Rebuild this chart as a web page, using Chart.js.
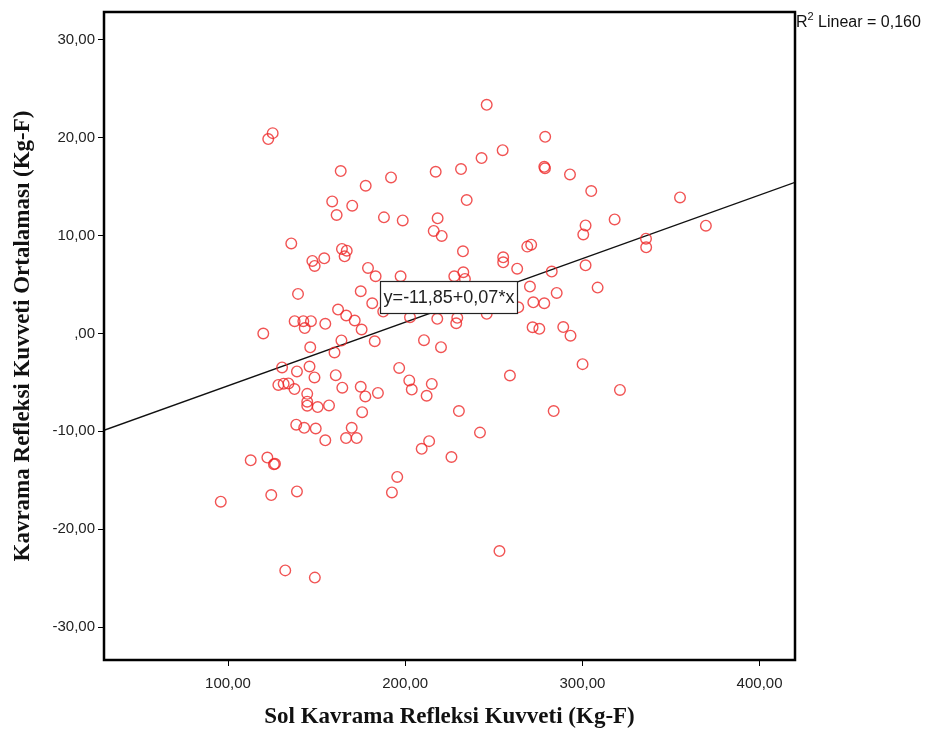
<!DOCTYPE html>
<html lang="tr">
<head>
  <meta charset="UTF-8" />
  <title>Kavrama Refleksi</title>
  <script src="https://cdn.jsdelivr.net/npm/chart.js"></script>
  <style>
    body { margin: 0; background: #fff; }
    #plot { display: block; }
  </style>
</head>
<body>
  <canvas id="plot" width="928" height="735"></canvas>

  <script>
    // Sol Kavrama Refleksi Kuvveti (x) vs Kavrama Refleksi Kuvveti Ortalaması (y)
    const leftGrip = [
      125.2, 122.7, 163.6, 192.0, 217.2, 231.5, 177.7, 158.8, 170.1, 161.3,
      188.0, 198.6, 218.3, 216.1, 220.6, 135.7, 164.3, 167.0, 165.8, 154.3,
      147.6, 148.9, 179.0, 183.3, 197.4, 227.7, 139.5, 174.9, 181.4, 162.1,
      166.7, 171.5, 137.6, 142.5, 146.8, 154.9, 175.4, 119.9, 218.1, 202.7,
      229.4, 228.8, 246.0, 279.0, 255.0, 243.1, 278.5, 278.9, 293.0, 305.0,
      234.7, 355.1, 301.8, 300.5, 318.2, 369.7, 335.9, 336.0, 232.6, 268.9,
      271.1, 255.3, 255.3, 263.2, 301.8, 282.7, 232.8, 233.7, 270.4, 308.6,
      285.5, 272.3, 278.5, 246.0, 263.8, 271.9, 275.7, 289.2, 293.3, 300.1,
      321.2, 283.8, 259.1, 230.3, 242.2, 226.1, 253.2, 143.3, 210.6, 220.2,
      182.8, 164.0, 146.4, 160.1, 130.5, 138.9, 146.0, 148.8, 160.8, 196.6,
      202.3, 203.7, 215.0, 212.1, 128.4, 131.4, 134.1, 137.5, 144.7, 144.7,
      144.7, 150.6, 157.0, 164.5, 174.9, 177.5, 184.6, 175.7, 138.5, 143.0,
      149.5, 154.9, 169.8, 166.6, 172.6, 213.5, 209.3, 112.8, 122.2, 125.9,
      126.5, 195.5, 192.5, 124.4, 138.9, 95.9, 132.3, 149.0, 187.6
    ];
    const gripAvg = [
      20.48, 19.87, 16.60, 15.95, 16.53, 16.81, 15.10, 13.50, 13.06, 12.11,
      11.87, 11.56, 11.77, 10.48, 9.97, 9.21, 8.64, 8.47, 7.89, 7.68,
      7.42, 6.91, 6.70, 5.85, 5.85, 5.85, 4.05, 4.32, 3.09, 2.45,
      1.84, 1.33, 1.26, 1.26, 1.26, 0.99, 0.41, 0.00, 1.50, 1.66,
      1.60, 1.05, 23.37, 20.10, 18.74, 17.93, 17.04, 16.89, 16.26, 14.56,
      13.64, 13.91, 11.05, 10.13, 11.66, 11.02, 9.69, 8.81, 8.40, 8.88,
      9.08, 7.79, 7.28, 6.63, 6.97, 6.33, 6.26, 5.58, 4.80, 4.69,
      4.15, 3.19, 3.09, 2.01, 2.68, 0.64, 0.48, 0.66, -0.22, -3.13,
      -5.77, -7.93, -4.29, -7.93, -10.13, -12.62, -22.24, 0.56, -0.68, -1.40,
      -0.79, -0.71, -1.41, -1.94, -3.47, -3.88, -3.37, -4.49, -4.26, -3.52,
      -4.80, -5.73, -5.15, -6.36, -5.26, -5.13, -5.10, -5.68, -6.17, -6.97,
      -7.38, -7.52, -7.35, -5.54, -5.44, -6.43, -6.07, -8.04, -9.32, -9.64,
      -9.71, -10.92, -9.64, -10.69, -10.69, -11.00, -11.79, -12.96, -12.68, -13.37,
      -13.32, -14.66, -16.24, -16.51, -16.14, -17.19, -24.21, -24.95, 2.24
    ];

    const xTicks = [100, 200, 300, 400];
    const yTicks = [-30, -20, -10, 0, 10, 20, 30];
    const xRange = [30, 420];
    const yRange = [-33.37, 32.86];

    // fit line as printed by SPSS (slope shown rounded to 0,07)
    const fitIntercept = -11.85;
    const fitSlope = 0.065;
    const fitLabel = 'y=-11,85+0,07*x';
    const fitLabelAt = { x: 224.6, y: 3.78 };
    const rSquared = '0,160';

    const points = leftGrip.map((v, i) => ({ x: v, y: gripAvg[i] }));
    const fitLine = xRange.map(v => ({ x: v, y: fitIntercept + fitSlope * v }));

    const fmt = v => v === 0 ? ',00' : v.toFixed(2).replace('.', ',');

    const framePlugin = {
      id: 'frame',
      afterDatasetsDraw(chart) {
        const { ctx, chartArea: a, scales } = chart;
        ctx.save();

        // equation box
        ctx.font = '18px "Liberation Sans", Arial, sans-serif';
        const tw = ctx.measureText(fitLabel).width;
        const cx = scales.x.getPixelForValue(fitLabelAt.x);
        const cy = scales.y.getPixelForValue(fitLabelAt.y);
        const bw = Math.round(tw + 6), bh = 32;
        const bx = Math.round(cx - bw / 2), by = Math.round(cy - bh / 2);
        ctx.fillStyle = '#fff';
        ctx.fillRect(bx, by, bw, bh);
        ctx.strokeStyle = '#222';
        ctx.lineWidth = 1.2;
        ctx.strokeRect(bx + 0.5, by + 0.5, bw, bh);
        ctx.fillStyle = '#222';
        ctx.textAlign = 'center';
        ctx.textBaseline = 'middle';
        ctx.fillText(fitLabel, bx + bw / 2 + 0.5, by + bh / 2 + 1);

        // plot frame
        ctx.strokeStyle = '#000';
        ctx.lineWidth = 2.5;
        ctx.strokeRect(a.left, a.top, a.right - a.left, a.bottom - a.top);

        // R2 note
        ctx.textAlign = 'left';
        ctx.textBaseline = 'alphabetic';
        ctx.fillStyle = '#111';
        let x = a.right + 1;
        const base = 27;
        ctx.font = '16px "Liberation Sans", Arial, sans-serif';
        ctx.fillText('R', x, base);
        x += ctx.measureText('R').width;
        ctx.font = '11px "Liberation Sans", Arial, sans-serif';
        ctx.fillText('2', x, base - 7);
        x += ctx.measureText('2').width;
        ctx.font = '16px "Liberation Sans", Arial, sans-serif';
        ctx.fillText(' Linear = ' + rSquared, x, base);
        ctx.restore();
      }
    };

    const tickFont = { family: '"Liberation Sans", Arial, sans-serif', size: 15 };
    const titleFont = { family: '"Liberation Serif", "Times New Roman", serif', size: 23, weight: 'bold' };

    new Chart(document.getElementById('plot'), {
      data: {
        datasets: [
          {
            type: 'scatter',
            data: points,
            pointRadius: 5.3,
            pointHoverRadius: 5.3,
            pointBorderWidth: 1.4,
            borderColor: 'rgba(238, 40, 40, 0.8)',
            backgroundColor: 'rgba(0,0,0,0)'
          },
          {
            type: 'line',
            data: fitLine,
            borderColor: '#111',
            borderWidth: 1.4,
            pointRadius: 0,
            fill: false
          }
        ]
      },
      options: {
        responsive: false,
        animation: false,
        layout: { padding: { top: 11, right: 133, left: 0, bottom: 0 } },
        plugins: {
          legend: { display: false },
          tooltip: { enabled: false }
        },
        scales: {
          x: {
            type: 'linear',
            min: xRange[0],
            max: xRange[1],
            afterFit: s => { s.height = 75; },
            afterBuildTicks: s => { s.ticks = xTicks.map(v => ({ value: v })); },
            grid: { drawOnChartArea: false, drawTicks: true, tickLength: 6, tickColor: '#000', tickWidth: 1 },
            border: { display: false },
            ticks: { font: tickFont, color: '#222', padding: 9, maxRotation: 0, callback: fmt },
            title: {
              display: true,
              text: 'Sol Kavrama Refleksi Kuvveti (Kg-F)',
              font: titleFont,
              color: '#111',
              padding: { top: 0, bottom: 4 }
            }
          },
          y: {
            type: 'linear',
            min: yRange[0],
            max: yRange[1],
            afterFit: s => { s.width = 104; },
            afterBuildTicks: s => { s.ticks = yTicks.map(v => ({ value: v })); },
            grid: { drawOnChartArea: false, drawTicks: true, tickLength: 6, tickColor: '#000', tickWidth: 1 },
            border: { display: false },
            ticks: { font: tickFont, color: '#222', padding: 3, callback: fmt },
            title: {
              display: true,
              text: 'Kavrama Refleksi Kuvveti Ortalaması (Kg-F)',
              font: titleFont,
              color: '#111',
              padding: { top: 9, bottom: 0 }
            }
          }
        }
      },
      plugins: [framePlugin]
    });
  </script>
</body>
</html>
